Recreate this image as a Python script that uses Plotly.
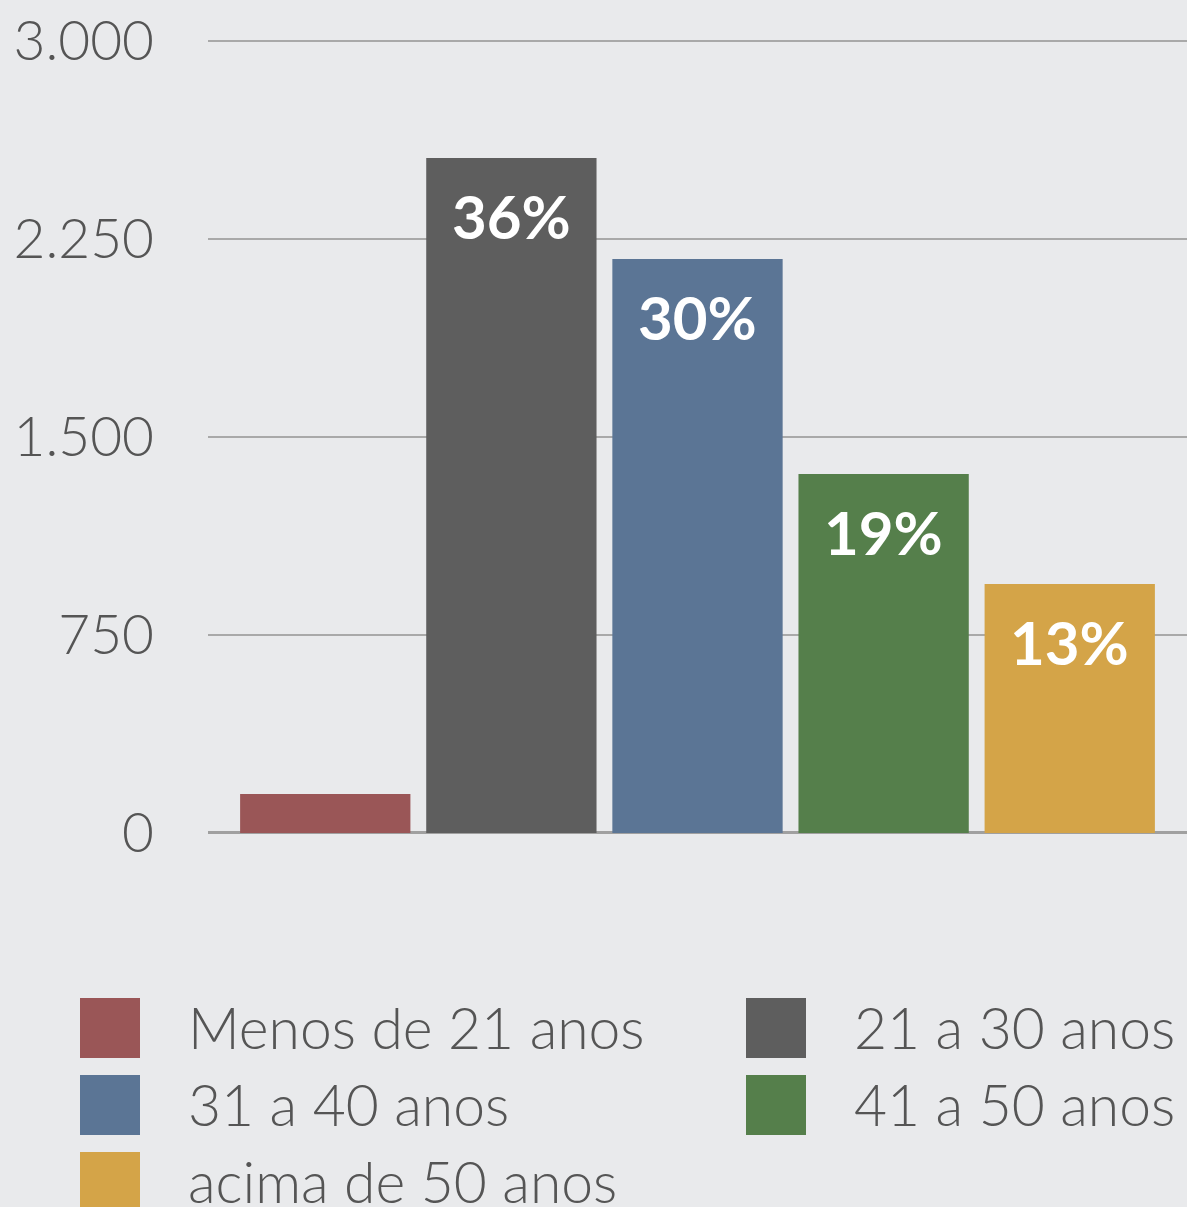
import plotly.graph_objects as go

categories = ["Menos de 21 anos", "21 a 30 anos", "31 a 40 anos", "41 a 50 anos", "acima de 50 anos"]
values = [148, 2557, 2174, 1360, 943]
pct_labels = ["", "36%", "30%", "19%", "13%"]
colors = ["#9a5657", "#5e5e5e", "#5b7595", "#557f4b", "#d4a448"]
tick_vals = [0, 750, 1500, 2250, 3000]
tick_text = ["0", "750", "1.500", "2.250", "3.000"]

W, H = 1187, 1207
FONT = "Lato"
TXT = "#555555"

def px(x):
    return x / W

def py(y):
    return 1 - y / H

Y_MAX = 3000
Y_PAD = 6  # small headroom so the top gridline is drawn
y0_px, ytop_px = 833, 41
scale = (y0_px - ytop_px) / Y_MAX

fig = go.Figure()
for cat, val, col in zip(categories, values, colors):
    fig.add_trace(go.Bar(x=[cat], y=[val], name=cat, marker=dict(color=col, line=dict(width=0)),
                         width=0.915, showlegend=False))

annotations = []
for cat, val, lab in zip(categories, values, pct_labels):
    if lab:
        annotations.append(dict(x=cat, y=val, xref="x", yref="y", text="<b>" + lab + "</b>",
                                showarrow=False, yshift=-58,
                                font=dict(family=FONT, size=60, color="white", weight=900)))

# manual legend (2 columns, row-major)
shapes = []
col_x = [80, 746]
row_y = [998, 1075, 1152]
sw = 60
for i, (cat, col) in enumerate(zip(categories, colors)):
    c, r = i % 2, i // 2
    x0, yy = col_x[c], row_y[r]
    shapes.append(dict(type="rect", xref="paper", yref="paper",
                       x0=px(x0), x1=px(x0 + sw), y0=py(yy), y1=py(yy + sw),
                       fillcolor=col, line=dict(width=0), layer="above"))
    annotations.append(dict(x=px(x0 + 106), y=py(yy + 29), xref="paper", yref="paper",
                            xanchor="left", yanchor="middle", text=cat, showarrow=False,
                            font=dict(family=FONT, size=57, color=TXT, weight=300)))

fig.update_layout(
    width=W, height=H,
    margin=dict(l=0, r=0, t=0, b=0, autoexpand=False),
    paper_bgcolor="#e9eaec", plot_bgcolor="rgba(0,0,0,0)",
    barmode="overlay",
    separators=",.",
    xaxis=dict(domain=[px(208), 1], type="category", range=[-0.63, 4.63], automargin=False,
               showticklabels=False, showgrid=False, zeroline=False, showline=False, fixedrange=True),
    yaxis=dict(domain=[py(y0_px), py(ytop_px - Y_PAD * scale)], range=[0, Y_MAX + Y_PAD],
               tickvals=tick_vals, ticktext=tick_text,
               automargin=False,
               showgrid=True, gridcolor="#a9a9a9", gridwidth=2,
               zeroline=True, zerolinecolor="#a0a0a0", zerolinewidth=3,
               showline=False, ticks="", ticklabelstandoff=53,
               tickfont=dict(family=FONT, size=55, color=TXT, weight=300)),
    shapes=shapes,
    annotations=annotations,
    showlegend=False,
)

fig.write_html("out.html", config={"displayModeBar": False},
               post_script="document.body.style.margin='0';document.body.style.overflow='hidden';")
